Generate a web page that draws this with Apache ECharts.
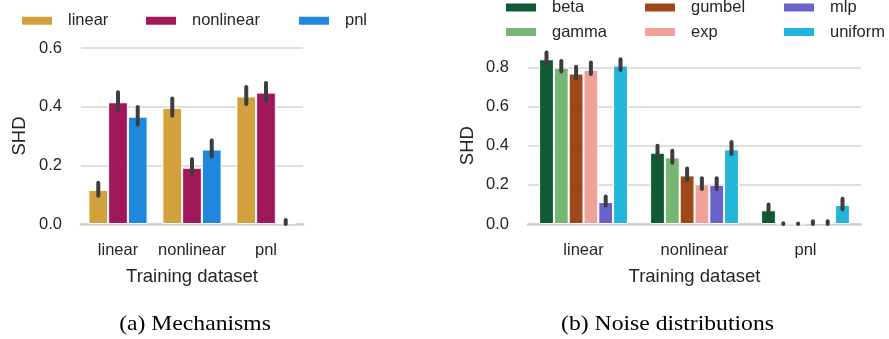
<!DOCTYPE html>
<html lang="en">
<head>
<meta charset="utf-8">
<script src="https://cdn.jsdelivr.net/npm/echarts@6/dist/echarts.min.js"></script>
<style>
  html, body { margin: 0; background: #fff; }
</style>
</head>
<body>
<div id="chart" style="width: 889px; height: 339px"></div>
<script>
// --- data ---
var trainSets = ['linear', 'nonlinear', 'pnl'];

// (a) mechanisms, one array per test mechanism, indexed by training set
var mechNames = ['linear', 'nonlinear', 'pnl'];
var mechLinear = [0.116, 0.396, 0.435];
var mechNonlinear = [0.415, 0.192, 0.448];
var mechPnl = [0.366, 0.254, 0.003];
var mechLow = [[0.096, 0.369, 0.409], [0.387, 0.171, 0.421], [0.338, 0.230, 0.000]];
var mechHigh = [[0.141, 0.428, 0.467], [0.449, 0.221, 0.481], [0.399, 0.285, 0.014]];

// (b) noise distributions
var noiseNames = ['beta', 'gamma', 'gumbel', 'exp', 'mlp', 'uniform'];
var noiseBeta = [0.841, 0.364, 0.070];
var noiseGamma = [0.798, 0.340, 0.002];
var noiseGumbel = [0.768, 0.248, 0.001];
var noiseExp = [0.788, 0.203, 0.006];
var noiseMlp = [0.112, 0.200, 0.006];
var noiseUniform = [0.809, 0.381, 0.097];
var noiseLow = [[0.820, 0.340, 0.054], [0.778, 0.313, 0.000], [0.744, 0.225, 0.000],
                [0.766, 0.179, 0.000], [0.094, 0.179, 0.000], [0.786, 0.357, 0.075]];
var noiseHigh = [[0.875, 0.400, 0.099], [0.832, 0.374, 0.004], [0.803, 0.283, 0.003],
                 [0.824, 0.233, 0.014], [0.140, 0.233, 0.014], [0.841, 0.419, 0.129]];

var captions = ['(a) Mechanisms', '(b) Noise distributions'];

var mechColors = ['#d3a13b', '#a1185a', '#1f88de'];
var noiseColors = ['#0f5935', '#77b774', '#9c4819', '#f0a199', '#6b61cb', '#21b5da'];

var font = 'Liberation Sans';
var txt = '#262626';

var chart = echarts.init(document.getElementById('chart'));

// error bar drawn as a rounded line at the bar's own slot in the group
function errSeries(name, xi, yi, idx, n, low, high) {
  return {
    type: 'custom',
    name: name + ' err',
    xAxisIndex: xi, yAxisIndex: yi,
    clip: false, z: 5,
    data: low.map(function (l, k) { return [k, l, high[k]]; }),
    renderItem: function (params, api) {
      var band = api.size([1, 0])[0];
      var bw = band * 0.8 / n;
      var off = -0.4 * band + (idx + 0.5) * bw;
      var p1 = api.coord([api.value(0), api.value(1)]);
      var p2 = api.coord([api.value(0), api.value(2)]);
      return {
        type: 'line',
        shape: { x1: p1[0] + off, y1: p1[1], x2: p2[0] + off, y2: p2[1] },
        style: { stroke: '#3d3d3d', lineWidth: 4, lineCap: 'round' }
      };
    }
  };
}

function barSeries(name, xi, yi, data, color) {
  return {
    type: 'bar', name: name, xAxisIndex: xi, yAxisIndex: yi,
    data: data, clip: false,
    barGap: '0%', barCategoryGap: '20%',
    itemStyle: { color: color, borderColor: '#fff', borderWidth: 1 }
  };
}

function legendAt(name, left, top) {
  return {
    data: [name], left: left, top: top, padding: 0,
    itemWidth: 32, itemHeight: 10, selectedMode: false,
    icon: 'rect',
    textStyle: { fontFamily: font, fontSize: 16.5, color: txt, padding: [0, 0, 0, 10], lineHeight: 20 }
  };
}

// LaTeX caption under each panel (Times, slightly wide)
function caption(text, cx) {
  return {
    type: 'text', x: cx, y: 324, scaleX: 1.1,
    style: { text: text, align: 'center', verticalAlign: 'middle',
             font: '21.5px "Liberation Serif"', fill: '#000' }
  };
}

var mechData = [mechLinear, mechNonlinear, mechPnl];
var noiseData = [noiseBeta, noiseGamma, noiseGumbel, noiseExp, noiseMlp, noiseUniform];

var series = [];
mechNames.forEach(function (nm, i) {
  series.push(barSeries(nm, 0, 0, mechData[i], mechColors[i]));
});
mechNames.forEach(function (nm, i) {
  series.push(errSeries(nm, 0, 0, i, 3, mechLow[i], mechHigh[i]));
});
noiseNames.forEach(function (nm, i) {
  series.push(barSeries(nm, 1, 1, noiseData[i], noiseColors[i]));
});
noiseNames.forEach(function (nm, i) {
  series.push(errSeries(nm, 1, 1, i, 6, noiseLow[i], noiseHigh[i]));
});

function xAx(gi) {
  return {
    type: 'category', gridIndex: gi, data: trainSets,
    axisLine: { show: true, lineStyle: { color: '#cfcfcf', width: 2.5 } },
    axisTick: { show: false },
    axisLabel: { fontFamily: font, fontSize: 16.5, color: txt, margin: 18, interval: 0 },
    name: 'Training dataset', nameLocation: 'middle', nameGap: 43,
    nameTextStyle: { fontFamily: font, fontSize: 18.5, color: txt }
  };
}
function yAx(gi, max, gap) {
  return {
    type: 'value', gridIndex: gi, min: 0, max: max, interval: 0.2,
    axisLine: { show: false }, axisTick: { show: false },
    splitLine: { lineStyle: { color: '#d4d4d4', width: 1.5 } },
    axisLabel: { fontFamily: font, fontSize: 16.5, color: txt, margin: 19,
                 formatter: function (v) { return v.toFixed(1); } },
    name: 'SHD', nameLocation: 'middle', nameGap: gap,
    nameTextStyle: { fontFamily: font, fontSize: 18.5, color: txt }
  };
}

chart.setOption({
  animation: false,
  graphic: [caption(captions[0], 195), caption(captions[1], 667.5)],
  legend: [
    legendAt('linear', 20, 10.7), legendAt('nonlinear', 144, 10.7), legendAt('pnl', 297, 10.7),
    legendAt('beta', 504, -2.5), legendAt('gamma', 504, 22),
    legendAt('gumbel', 643, -2.5), legendAt('exp', 643, 22),
    legendAt('mlp', 782, -2.5), legendAt('uniform', 782, 22)
  ],
  grid: [
    { left: 81, top: 48, width: 222, height: 176 },
    { left: 528, top: 67.3, width: 333, height: 156.7 }
  ],
  xAxis: [xAx(0), xAx(1)],
  yAxis: [yAx(0, 0.6, 52), yAx(1, 0.8, 51)],
  series: series
});
</script>
</body>
</html>
